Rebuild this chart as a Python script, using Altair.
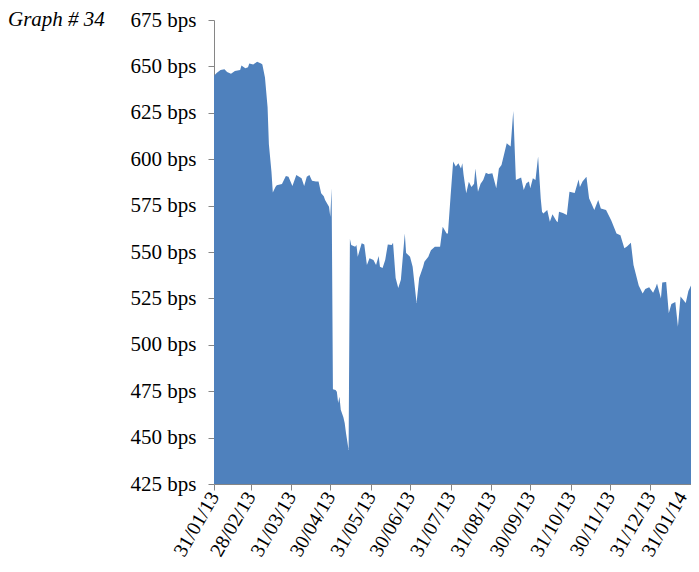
import altair as alt
import pandas as pd

chart_title = "Graph # 34"

dates = [
    "2013-01-31", "2013-02-02", "2013-02-05", "2013-02-08", "2013-02-10", "2013-02-13",
    "2013-02-16", "2013-02-20", "2013-02-21", "2013-02-24", "2013-02-26", "2013-02-27",
    "2013-03-02", "2013-03-05", "2013-03-08", "2013-03-09", "2013-03-11", "2013-03-13",
    "2013-03-14", "2013-03-16", "2013-03-17", "2013-03-19", "2013-03-20", "2013-03-24",
    "2013-03-27", "2013-03-29", "2013-04-01", "2013-04-04", "2013-04-08", "2013-04-10",
    "2013-04-12", "2013-04-14", "2013-04-16", "2013-04-19", "2013-04-21", "2013-04-23",
    "2013-04-25", "2013-04-26", "2013-04-29", "2013-04-30", "2013-05-01", "2013-05-02",
    "2013-05-04", "2013-05-05", "2013-05-06", "2013-05-07", "2013-05-08", "2013-05-10",
    "2013-05-11", "2013-05-12", "2013-05-14", "2013-05-15", "2013-05-16", "2013-05-19",
    "2013-05-20", "2013-05-21", "2013-05-24", "2013-05-26", "2013-05-28", "2013-05-30",
    "2013-06-02", "2013-06-04", "2013-06-06", "2013-06-07", "2013-06-09", "2013-06-11",
    "2013-06-13", "2013-06-16", "2013-06-17", "2013-06-19", "2013-06-21", "2013-06-23",
    "2013-06-26", "2013-06-27", "2013-06-30", "2013-07-02", "2013-07-05", "2013-07-07",
    "2013-07-10", "2013-07-11", "2013-07-14", "2013-07-16", "2013-07-19", "2013-07-23",
    "2013-07-25", "2013-07-28", "2013-07-29", "2013-07-31", "2013-08-02", "2013-08-04",
    "2013-08-06", "2013-08-08", "2013-08-09", "2013-08-10", "2013-08-12", "2013-08-14",
    "2013-08-16", "2013-08-18", "2013-08-19", "2013-08-21", "2013-08-23", "2013-08-25",
    "2013-08-27", "2013-08-29", "2013-09-01", "2013-09-04", "2013-09-06", "2013-09-08",
    "2013-09-12", "2013-09-15", "2013-09-17", "2013-09-19", "2013-09-23", "2013-09-25",
    "2013-09-27", "2013-09-29", "2013-09-30", "2013-10-02", "2013-10-04", "2013-10-06",
    "2013-10-08", "2013-10-09", "2013-10-10", "2013-10-13", "2013-10-15", "2013-10-17",
    "2013-10-20", "2013-10-21", "2013-10-22", "2013-10-25", "2013-10-28", "2013-10-30",
    "2013-11-03", "2013-11-06", "2013-11-07", "2013-11-09", "2013-11-12", "2013-11-14",
    "2013-11-18", "2013-11-21", "2013-11-23", "2013-11-27", "2013-12-01", "2013-12-05",
    "2013-12-08", "2013-12-11", "2013-12-13", "2013-12-16", "2013-12-18", "2013-12-22",
    "2013-12-25", "2013-12-27", "2013-12-30", "2014-01-02", "2014-01-04", "2014-01-05",
    "2014-01-08", "2014-01-09", "2014-01-12", "2014-01-14", "2014-01-16", "2014-01-19",
    "2014-01-21", "2014-01-23", "2014-01-27", "2014-01-29", "2014-01-31",
]

spread_bps = [
    645, 646.5, 648, 648.5, 647, 646,
    647.5, 648, 650.5, 649, 649.5, 651.5,
    651, 652.5, 651.5, 651, 644, 628,
    608, 593, 582, 585, 586, 586.6,
    591, 590.6, 585.6, 591.5, 589.7, 585.6,
    590.6, 591.5, 588.4, 588, 588, 581.6,
    580, 578, 574.4, 569, 584.3, 476,
    475.6, 474.7, 468.6, 472, 465, 461,
    457.8, 452.5, 443.3, 557, 553.8, 552.8,
    553.8, 547.5, 554.7, 554, 543, 546.6,
    545.7, 543, 547.8, 542, 541.4, 545.7,
    554, 553.8, 555, 536, 530.6, 535,
    560, 549.5, 547.5, 542, 522.5, 536,
    542, 544.8, 547.5, 551, 552.8, 552.8,
    563.6, 560, 560, 579.8, 598.7, 596,
    597.8, 595, 597.8, 591.5, 581.6, 587.9,
    585, 586.8, 595, 582.5, 586.8, 588.8,
    592.7, 592, 592.4, 584.3, 595, 596.9,
    608.6, 606.8, 626, 588.8, 590.2, 583.4,
    587, 588, 584.3, 589.7, 588.8, 601.4,
    579, 571.7, 570.8, 572.6, 566.3, 570.3,
    566.7, 566, 571.7, 571, 570, 582.5,
    581.8, 589, 585, 588, 590.6, 578.9,
    572.6, 578, 573.5, 572.6, 567, 560,
    559, 552, 553, 555, 543, 532,
    527.7, 530, 531, 528, 531, 533,
    525, 533.5, 533.8, 517, 522, 523,
    509.7, 526, 522.5, 529, 532,
]

month_ends = [
    (2013, 1, 31), (2013, 2, 28), (2013, 3, 31), (2013, 4, 30), (2013, 5, 31),
    (2013, 6, 30), (2013, 7, 31), (2013, 8, 31), (2013, 9, 30), (2013, 10, 31),
    (2013, 11, 30), (2013, 12, 31), (2014, 1, 31),
]

y_ticks = [425, 450, 475, 500, 525, 550, 575, 600, 625, 650, 675]

df = pd.DataFrame({"date": pd.to_datetime(dates), "spread": spread_bps})

tick_dates = [alt.DateTime(year=y, month=m, date=d) for (y, m, d) in month_ends]

font = "Liberation Serif"
fsize = 21

area = alt.Chart(df).mark_area(color="#4F81BD", interpolate="linear", clip=True).encode(
    x=alt.X(
        "date:T",
        scale=alt.Scale(domain=[tick_dates[0], tick_dates[-1]]),
        axis=alt.Axis(
            values=tick_dates,
            format="%d/%m/%y",
            labelAngle=-60,
            labelAlign="right",
            labelBaseline="middle",
            labelPadding=3,
            labelFontSize=20,
            labelOffset={"condition": {"test": "datum.index >= 0.999", "value": -9}, "value": 0},
            tickSize=6,
            title=None,
            grid=False,
            labelOverlap=False,
        ),
    ),
    y=alt.Y(
        "spread:Q",
        scale=alt.Scale(domain=[y_ticks[0], y_ticks[-1]], zero=False, nice=False),
        axis=alt.Axis(
            values=y_ticks,
            labelExpr="datum.value + ' bps'",
            tickSize=6,
            labelPadding=12,
            title=None,
            grid=False,
        ),
    ),
)

title_text = alt.Chart(pd.DataFrame({"t": [chart_title]})).mark_text(
    align="left",
    baseline="middle",
    font=font,
    fontSize=fsize,
    fontStyle="italic",
    color="black",
).encode(
    x=alt.value(-206),
    y=alt.value(0),
    text="t:N",
)

chart = alt.layer(area, title_text).properties(
    width=477,
    height=464,
    autosize=alt.AutoSizeParams(type="none"),
    padding={"left": 206, "top": 12, "right": 0, "bottom": 80},
).configure_view(
    stroke=None
).configure_axis(
    domainColor="#868686",
    tickColor="#868686",
    labelColor="black",
    labelFont=font,
    labelFontSize=fsize,
)

chart.save("out.html", embed_options={"renderer": "svg", "actions": False})
